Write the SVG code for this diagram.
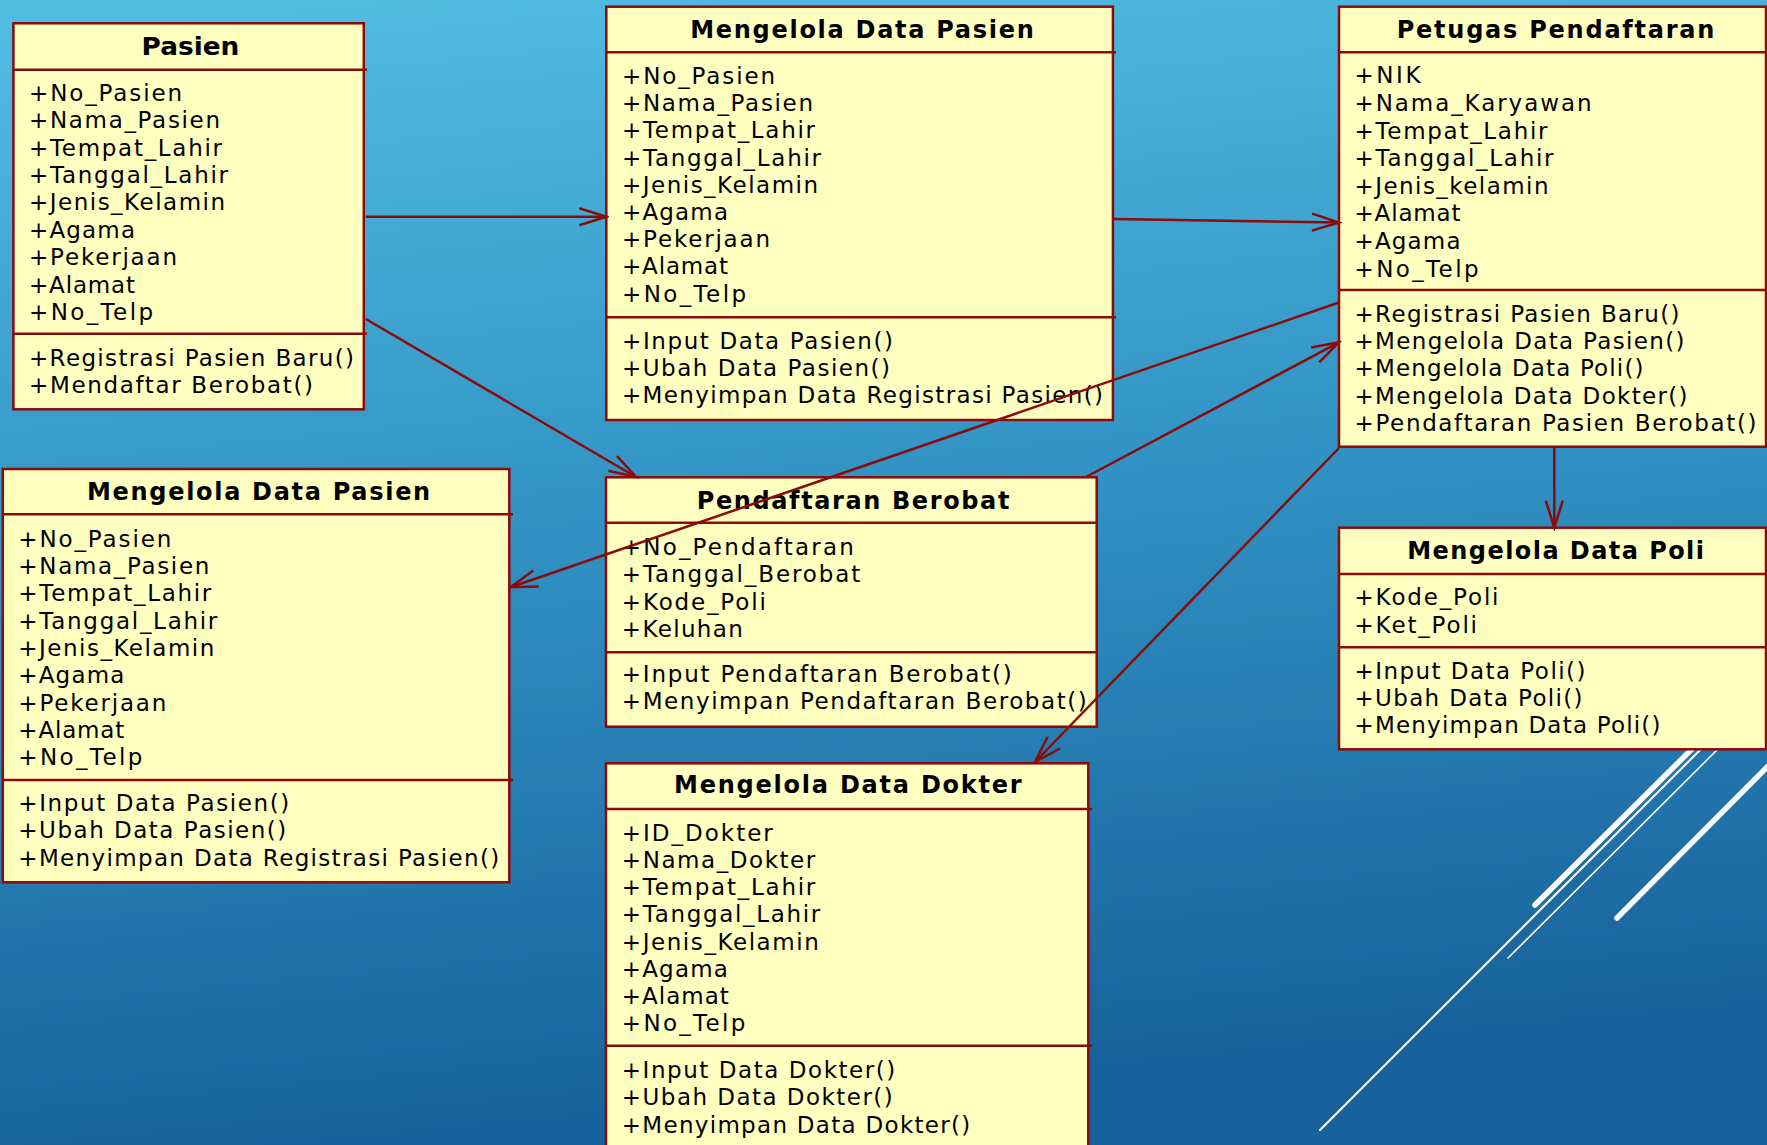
<svg xmlns="http://www.w3.org/2000/svg" width="1767" height="1145" viewBox="0 0 1767 1145">
<defs>
<linearGradient id="bg" x1="0" y1="0" x2="0.15" y2="1">
<stop offset="0" stop-color="#52BEE2"/>
<stop offset="0.5" stop-color="#3192C3"/>
<stop offset="1" stop-color="#17629A"/>
</linearGradient>
<marker id="arr" markerUnits="userSpaceOnUse" markerWidth="32" markerHeight="22" viewBox="0 0 32 22" refX="29" refY="11" orient="auto">
<path d="M2,2.5 L29,11 L2,19.5" fill="none" stroke="#8B0A0A" stroke-width="2.5"/>
</marker>
</defs>
<style>
.box{fill:#FFFFC0;stroke:#8B0A0A;stroke-width:2.5}
.sep{stroke:#8B0A0A;stroke-width:2.5}
.t{font-family:"DejaVu Sans",Verdana,sans-serif;font-weight:bold;font-size:24px;fill:#000}
.a{font-family:"DejaVu Sans",Verdana,sans-serif;font-size:23px;fill:#000}
.c{fill:none;stroke:#8B0A0A;stroke-width:2.5;marker-end:url(#arr)}
.deco{stroke:#FFFFFF;fill:none;stroke-linecap:round}
</style>
<rect x="0" y="0" width="1767" height="1145" fill="url(#bg)"/>
<g id="decoration">
<line class="deco" x1="1535" y1="905" x2="1695" y2="746" stroke-width="5.5"/>
<line class="deco" x1="1320" y1="1130" x2="1703" y2="747" stroke-width="2"/>
<line class="deco" x1="1508" y1="958" x2="1720" y2="747" stroke-width="1.5"/>
<line class="deco" x1="1617" y1="918" x2="1780" y2="754" stroke-width="5.5"/>
</g>

<g id="pasien">
<rect class="box" x="13.4" y="23.3" width="350.4" height="386"/>
<line class="sep" x1="13.4" y1="69.7" x2="367" y2="69.7"/>
<line class="sep" x1="13.4" y1="333.7" x2="367" y2="333.7"/>
<text class="t" x="141.6" y="55" textLength="97.7" lengthAdjust="spacingAndGlyphs">Pasien</text>
<text class="a" x="29" y="100.7" textLength="153" lengthAdjust="spacing">+No_Pasien</text>
<text class="a" x="29" y="128.1" textLength="191" lengthAdjust="spacing">+Nama_Pasien</text>
<text class="a" x="29" y="155.5" textLength="193" lengthAdjust="spacing">+Tempat_Lahir</text>
<text class="a" x="29" y="182.9" textLength="199" lengthAdjust="spacing">+Tanggal_Lahir</text>
<text class="a" x="29" y="210.3" textLength="196" lengthAdjust="spacing">+Jenis_Kelamin</text>
<text class="a" x="29" y="237.7" textLength="106" lengthAdjust="spacing">+Agama</text>
<text class="a" x="29" y="265.1" textLength="148" lengthAdjust="spacing">+Pekerjaan</text>
<text class="a" x="29" y="292.5" textLength="106" lengthAdjust="spacing">+Alamat</text>
<text class="a" x="29" y="319.9" textLength="124" lengthAdjust="spacing">+No_Telp</text>
<text class="a" x="29" y="365.7" textLength="325" lengthAdjust="spacing">+Registrasi Pasien Baru()</text>
<text class="a" x="29" y="392.7" textLength="284" lengthAdjust="spacing">+Mendaftar Berobat()</text>
</g>

<g id="mengelola-data-pasien-1">
<rect class="box" x="606.3" y="6.7" width="506.6" height="413.3"/>
<line class="sep" x1="606.3" y1="52.3" x2="1116" y2="52.3"/>
<line class="sep" x1="606.3" y1="317.3" x2="1116" y2="317.3"/>
<text class="t" x="690.2" y="38.3" textLength="343.6" lengthAdjust="spacing">Mengelola Data Pasien</text>
<text class="a" x="622" y="84" textLength="153" lengthAdjust="spacing">+No_Pasien</text>
<text class="a" x="622" y="111.2" textLength="191" lengthAdjust="spacing">+Nama_Pasien</text>
<text class="a" x="622" y="138.4" textLength="193" lengthAdjust="spacing">+Tempat_Lahir</text>
<text class="a" x="622" y="165.6" textLength="199" lengthAdjust="spacing">+Tanggal_Lahir</text>
<text class="a" x="622" y="192.8" textLength="196" lengthAdjust="spacing">+Jenis_Kelamin</text>
<text class="a" x="622" y="220" textLength="106" lengthAdjust="spacing">+Agama</text>
<text class="a" x="622" y="247.2" textLength="148" lengthAdjust="spacing">+Pekerjaan</text>
<text class="a" x="622" y="274.4" textLength="106" lengthAdjust="spacing">+Alamat</text>
<text class="a" x="622" y="301.6" textLength="124" lengthAdjust="spacing">+No_Telp</text>
<text class="a" x="622" y="349" textLength="271" lengthAdjust="spacing">+Input Data Pasien()</text>
<text class="a" x="622" y="376" textLength="268" lengthAdjust="spacing">+Ubah Data Pasien()</text>
<text class="a" x="622" y="403.3" textLength="481" lengthAdjust="spacing">+Menyimpan Data Registrasi Pasien()</text>
</g>

<g id="petugas-pendaftaran">
<rect class="box" x="1339" y="6.7" width="427" height="440"/>
<line class="sep" x1="1339" y1="52.3" x2="1767" y2="52.3"/>
<line class="sep" x1="1339" y1="290" x2="1767" y2="290"/>
<text class="t" x="1396.7" y="38.3" textLength="317.7" lengthAdjust="spacing">Petugas Pendaftaran</text>
<text class="a" x="1354.5" y="83.3" textLength="66" lengthAdjust="spacing">+NIK</text>
<text class="a" x="1354.5" y="110.9" textLength="237" lengthAdjust="spacing">+Nama_Karyawan</text>
<text class="a" x="1354.5" y="138.5" textLength="193" lengthAdjust="spacing">+Tempat_Lahir</text>
<text class="a" x="1354.5" y="166.1" textLength="199" lengthAdjust="spacing">+Tanggal_Lahir</text>
<text class="a" x="1354.5" y="193.7" textLength="194" lengthAdjust="spacing">+Jenis_kelamin</text>
<text class="a" x="1354.5" y="221.3" textLength="106" lengthAdjust="spacing">+Alamat</text>
<text class="a" x="1354.5" y="248.9" textLength="106" lengthAdjust="spacing">+Agama</text>
<text class="a" x="1354.5" y="276.5" textLength="124" lengthAdjust="spacing">+No_Telp</text>
<text class="a" x="1354.5" y="321.7" textLength="325" lengthAdjust="spacing">+Registrasi Pasien Baru()</text>
<text class="a" x="1354.5" y="349" textLength="330" lengthAdjust="spacing">+Mengelola Data Pasien()</text>
<text class="a" x="1354.5" y="376.2" textLength="289" lengthAdjust="spacing">+Mengelola Data Poli()</text>
<text class="a" x="1354.5" y="403.5" textLength="333" lengthAdjust="spacing">+Mengelola Data Dokter()</text>
<text class="a" x="1354.5" y="430.7" textLength="402" lengthAdjust="spacing">+Pendaftaran Pasien Berobat()</text>
</g>

<g id="mengelola-data-pasien-2">
<rect class="box" x="2.8" y="469" width="506.5" height="413.3"/>
<line class="sep" x1="2.8" y1="514.3" x2="513" y2="514.3"/>
<line class="sep" x1="2.8" y1="780" x2="513" y2="780"/>
<text class="t" x="87" y="500" textLength="343.2" lengthAdjust="spacing">Mengelola Data Pasien</text>
<text class="a" x="18.3" y="546.7" textLength="153" lengthAdjust="spacing">+No_Pasien</text>
<text class="a" x="18.3" y="574" textLength="191" lengthAdjust="spacing">+Nama_Pasien</text>
<text class="a" x="18.3" y="601.3" textLength="193" lengthAdjust="spacing">+Tempat_Lahir</text>
<text class="a" x="18.3" y="628.6" textLength="199" lengthAdjust="spacing">+Tanggal_Lahir</text>
<text class="a" x="18.3" y="655.9" textLength="196" lengthAdjust="spacing">+Jenis_Kelamin</text>
<text class="a" x="18.3" y="683.2" textLength="106" lengthAdjust="spacing">+Agama</text>
<text class="a" x="18.3" y="710.5" textLength="148" lengthAdjust="spacing">+Pekerjaan</text>
<text class="a" x="18.3" y="737.8" textLength="106" lengthAdjust="spacing">+Alamat</text>
<text class="a" x="18.3" y="765.1" textLength="124" lengthAdjust="spacing">+No_Telp</text>
<text class="a" x="18.3" y="810.7" textLength="271" lengthAdjust="spacing">+Input Data Pasien()</text>
<text class="a" x="18.3" y="838.3" textLength="268" lengthAdjust="spacing">+Ubah Data Pasien()</text>
<text class="a" x="18.3" y="866" textLength="481" lengthAdjust="spacing">+Menyimpan Data Registrasi Pasien()</text>
</g>

<g id="pendaftaran-berobat">
<rect class="box" x="606" y="477.3" width="490.7" height="249.4"/>
<line class="sep" x1="606" y1="522.7" x2="1097" y2="522.7"/>
<line class="sep" x1="606" y1="652.3" x2="1097" y2="652.3"/>
<text class="t" x="696.7" y="509" textLength="312.7" lengthAdjust="spacing">Pendaftaran Berobat</text>
<text class="a" x="621.8" y="555" textLength="232" lengthAdjust="spacing">+No_Pendaftaran</text>
<text class="a" x="621.8" y="582.3" textLength="238.5" lengthAdjust="spacing">+Tanggal_Berobat</text>
<text class="a" x="621.8" y="610" textLength="144" lengthAdjust="spacing">+Kode_Poli</text>
<text class="a" x="621.8" y="636.7" textLength="121" lengthAdjust="spacing">+Keluhan</text>
<text class="a" x="621.8" y="682.3" textLength="390" lengthAdjust="spacing">+Input Pendaftaran Berobat()</text>
<text class="a" x="621.8" y="709.3" textLength="465" lengthAdjust="spacing">+Menyimpan Pendaftaran Berobat()</text>
</g>

<g id="mengelola-data-poli">
<rect class="box" x="1339" y="527.7" width="427" height="221.6"/>
<line class="sep" x1="1339" y1="574" x2="1767" y2="574"/>
<line class="sep" x1="1339" y1="647.3" x2="1767" y2="647.3"/>
<text class="t" x="1407.3" y="559" textLength="296.7" lengthAdjust="spacing">Mengelola Data Poli</text>
<text class="a" x="1354.5" y="605" textLength="144" lengthAdjust="spacing">+Kode_Poli</text>
<text class="a" x="1354.5" y="632.7" textLength="122.5" lengthAdjust="spacing">+Ket_Poli</text>
<text class="a" x="1354.5" y="679" textLength="231" lengthAdjust="spacing">+Input Data Poli()</text>
<text class="a" x="1354.5" y="706" textLength="228" lengthAdjust="spacing">+Ubah Data Poli()</text>
<text class="a" x="1354.5" y="733.3" textLength="306" lengthAdjust="spacing">+Menyimpan Data Poli()</text>
</g>

<g id="mengelola-data-dokter">
<rect class="box" x="606" y="763.3" width="482.3" height="390"/>
<line class="sep" x1="606" y1="809" x2="1092" y2="809"/>
<line class="sep" x1="606" y1="1045.7" x2="1092" y2="1045.7"/>
<text class="t" x="674" y="793.3" textLength="347.7" lengthAdjust="spacing">Mengelola Data Dokter</text>
<text class="a" x="621.8" y="840.7" textLength="151" lengthAdjust="spacing">+ID_Dokter</text>
<text class="a" x="621.8" y="867.9" textLength="193.5" lengthAdjust="spacing">+Nama_Dokter</text>
<text class="a" x="621.8" y="895.1" textLength="193.5" lengthAdjust="spacing">+Tempat_Lahir</text>
<text class="a" x="621.8" y="922.3" textLength="198.5" lengthAdjust="spacing">+Tanggal_Lahir</text>
<text class="a" x="621.8" y="949.5" textLength="197" lengthAdjust="spacing">+Jenis_Kelamin</text>
<text class="a" x="621.8" y="976.7" textLength="106" lengthAdjust="spacing">+Agama</text>
<text class="a" x="621.8" y="1003.9" textLength="107" lengthAdjust="spacing">+Alamat</text>
<text class="a" x="621.8" y="1031.1" textLength="123.5" lengthAdjust="spacing">+No_Telp</text>
<text class="a" x="621.8" y="1078.3" textLength="273.5" lengthAdjust="spacing">+Input Data Dokter()</text>
<text class="a" x="621.8" y="1105" textLength="271" lengthAdjust="spacing">+Ubah Data Dokter()</text>
<text class="a" x="621.8" y="1132.7" textLength="348.5" lengthAdjust="spacing">+Menyimpan Data Dokter()</text>
</g>

<g id="connectors">
<path class="c" d="M365.8,216.7 L606.3,216.7"/>
<path class="c" d="M1114,219 L1339,222.5"/>
<path class="c" d="M365.8,319 L636,477"/>
<path class="c" d="M1339,302.5 L510.5,587.3"/>
<path class="c" d="M1086,477 L1339,342.3"/>
<path class="c" d="M1339,448 L1035,762"/>
<path class="c" d="M1554.3,447 L1554.3,527.7"/>
</g>
</svg>
